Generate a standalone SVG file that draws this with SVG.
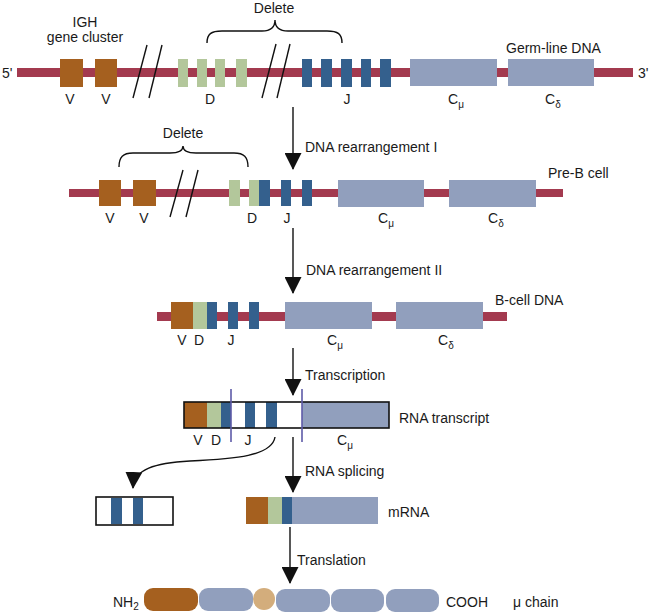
<svg xmlns="http://www.w3.org/2000/svg" width="650" height="613" viewBox="0 0 650 613">
<defs>
<style>
text{font-family:"Liberation Sans",Arial,sans-serif;font-size:14px;fill:#1a1a1a}
.c{text-anchor:middle}
.bar{fill:#A33A4F}
.v{fill:#A5601F}
.d{fill:#B3C79B}
.j{fill:#34608D}
.cc{fill:#919FBD}
.ln{stroke:#111;stroke-width:1.4;fill:none}
.pl{stroke:#5E5BA8;stroke-width:1.6}
.sub{font-size:10px}
</style>
<marker id="ah" markerUnits="userSpaceOnUse" markerWidth="17" markerHeight="17" viewBox="0 0 17 17" refX="16" refY="8.5" orient="auto">
<path d="M0,0 L17,8.5 L0,17 z" fill="#111"/>
</marker>
</defs>
<rect width="650" height="613" fill="#fff"/>

<g id="germline">
<rect class="bar" x="17" y="68" width="616" height="9"/>
<rect class="v" x="60" y="59" width="23" height="28"/>
<rect class="v" x="95" y="59" width="22" height="28"/>
<rect class="d" x="178" y="59" width="10" height="28"/>
<rect class="d" x="197" y="59" width="10" height="28"/>
<rect class="d" x="215" y="59" width="10" height="28"/>
<rect class="d" x="236" y="59" width="11" height="28"/>
<rect class="j" x="302" y="59" width="10" height="28"/>
<rect class="j" x="321" y="59" width="11" height="28"/>
<rect class="j" x="341" y="59" width="11" height="28"/>
<rect class="j" x="361" y="59" width="10" height="28"/>
<rect class="j" x="380" y="59" width="11" height="28"/>
<rect class="cc" x="410" y="59" width="87" height="27"/>
<rect class="cc" x="508" y="59" width="86" height="27"/>
<line class="ln" x1="133" y1="98" x2="147" y2="45"/>
<line class="ln" x1="149" y1="98" x2="162" y2="45"/>
<line class="ln" x1="262" y1="98" x2="276" y2="44"/>
<line class="ln" x1="277" y1="98" x2="290" y2="44"/>
<path class="ln" d="M207,43 C207,34 211,31 222,31 L262,31 C270,31 275,28 275,20 C275,28 280,31 288,31 L327,31 C338,31 342,34 342,43"/>
<text class="c" x="274" y="13">Delete</text>
<text class="c" x="85" y="27">IGH</text>
<text class="c" x="85" y="42">gene cluster</text>
<text x="2" y="78">5'</text>
<text x="638" y="78">3'</text>
<text x="506" y="53">Germ-line DNA</text>
<text class="c" x="70" y="104">V</text>
<text class="c" x="106" y="104">V</text>
<text class="c" x="210" y="104">D</text>
<text class="c" x="347" y="104">J</text>
<text x="448" y="104">C<tspan class="sub" dy="4">μ</tspan></text>
<text x="545" y="104">C<tspan class="sub" dy="4">δ</tspan></text>
</g>

<g id="preb">
<rect class="bar" x="69" y="189" width="494" height="8"/>
<rect class="v" x="99" y="180" width="22" height="26"/>
<rect class="v" x="133" y="180" width="23" height="26"/>
<rect class="d" x="229" y="180" width="11" height="26"/>
<rect class="d" x="249" y="180" width="10" height="26"/>
<rect class="j" x="259" y="180" width="11" height="26"/>
<rect class="j" x="281" y="180" width="10" height="26"/>
<rect class="j" x="302" y="180" width="10" height="26"/>
<rect class="cc" x="338" y="180" width="86" height="27"/>
<rect class="cc" x="449" y="180" width="87" height="27"/>
<line class="ln" x1="170" y1="217" x2="183" y2="170"/>
<line class="ln" x1="186" y1="217" x2="198" y2="170"/>
<path class="ln" d="M119,167 C119,157 123,153 133,153 L170,153 C178,153 183,151 183,146 C183,151 188,153 196,153 L234,153 C244,153 248,157 248,167"/>
<text class="c" x="183" y="138">Delete</text>
<text x="548" y="178">Pre-B cell</text>
<text class="c" x="110" y="223">V</text>
<text class="c" x="144" y="223">V</text>
<text class="c" x="252" y="223">D</text>
<text class="c" x="287" y="223">J</text>
<text x="378" y="223">C<tspan class="sub" dy="4">μ</tspan></text>
<text x="488" y="223">C<tspan class="sub" dy="4">δ</tspan></text>
</g>

<g id="bcell">
<rect class="bar" x="157" y="312" width="350" height="9"/>
<rect class="v" x="171" y="302" width="22" height="27"/>
<rect class="d" x="193" y="302" width="14" height="27"/>
<rect class="j" x="207" y="302" width="10" height="27"/>
<rect class="j" x="228" y="302" width="10" height="27"/>
<rect class="j" x="249" y="302" width="10" height="27"/>
<rect class="cc" x="285" y="302" width="87" height="27"/>
<rect class="cc" x="396" y="302" width="87" height="27"/>
<text x="495" y="305">B-cell DNA</text>
<text class="c" x="182" y="345">V</text>
<text class="c" x="199" y="345">D</text>
<text class="c" x="231" y="345">J</text>
<text x="327" y="345">C<tspan class="sub" dy="4">μ</tspan></text>
<text x="438" y="345">C<tspan class="sub" dy="4">δ</tspan></text>
</g>

<g id="transcript">
<rect x="184" y="402" width="205" height="26" fill="#fff"/>
<rect class="v" x="184" y="402" width="23" height="26"/>
<rect class="d" x="207" y="402" width="14" height="26"/>
<rect class="j" x="221" y="402" width="10" height="26"/>
<rect class="j" x="245" y="402" width="10" height="26"/>
<rect class="j" x="266" y="402" width="11" height="26"/>
<rect class="cc" x="302" y="402" width="87" height="26"/>
<rect x="184" y="402" width="205" height="26" fill="none" stroke="#111" stroke-width="1.6"/>
<line class="pl" x1="231" y1="389" x2="231" y2="442"/>
<line class="pl" x1="302" y1="389" x2="302" y2="442"/>
<text x="399" y="423">RNA transcript</text>
<text class="c" x="198" y="445">V</text>
<text class="c" x="216" y="445">D</text>
<text class="c" x="248" y="445">J</text>
<text x="337" y="445">C<tspan class="sub" dy="4">μ</tspan></text>
</g>

<g id="excised">
<rect x="96" y="497" width="77" height="28" fill="#fff" stroke="#111" stroke-width="1.6"/>
<rect class="j" x="111" y="498" width="11" height="26"/>
<rect class="j" x="133" y="498" width="10" height="26"/>
</g>

<g id="mrna">
<rect class="v" x="246" y="497" width="22" height="27"/>
<rect class="d" x="268" y="497" width="14" height="27"/>
<rect class="j" x="282" y="497" width="10" height="27"/>
<rect class="cc" x="292" y="497" width="86" height="27"/>
<text x="388" y="517">mRNA</text>
</g>

<g id="protein">
<rect class="v" x="144" y="588" width="54" height="23" rx="9"/>
<rect class="cc" x="199" y="588" width="54" height="23" rx="9"/>
<circle cx="264" cy="599" r="11" fill="#D3AD7C"/>
<rect class="cc" x="276" y="589" width="54" height="23" rx="9"/>
<rect class="cc" x="331" y="589" width="53" height="23" rx="9"/>
<rect class="cc" x="386" y="589" width="53" height="23" rx="9"/>
<text x="113" y="607">NH<tspan class="sub" dy="3">2</tspan></text>
<text x="446" y="607">COOH</text>
<text x="513" y="607">μ chain</text>
</g>

<g id="connectors">
<line class="ln" x1="293" y1="107" x2="293" y2="169" marker-end="url(#ah)"/>
<text x="305" y="152">DNA rearrangement I</text>
<line class="ln" x1="293" y1="228" x2="293" y2="293" marker-end="url(#ah)"/>
<text x="306" y="275">DNA rearrangement II</text>
<line class="ln" x1="293" y1="348" x2="293" y2="395" marker-end="url(#ah)"/>
<text x="305" y="380">Transcription</text>
<line class="ln" x1="293" y1="437" x2="293" y2="492" marker-end="url(#ah)"/>
<text x="305" y="476">RNA splicing</text>
<path class="ln" d="M275,437 C272,456 235,459 190,461 C155,463 134,469 133,488" marker-end="url(#ah)"/>
<line class="ln" x1="290" y1="527" x2="290" y2="583" marker-end="url(#ah)"/>
<text x="297" y="565">Translation</text>
</g>
</svg>
